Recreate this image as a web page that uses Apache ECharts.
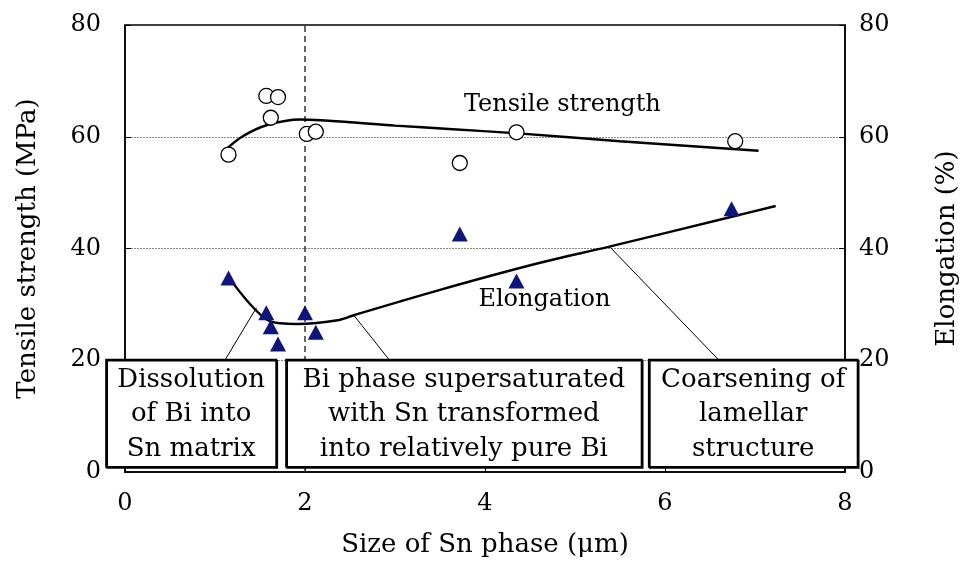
<!DOCTYPE html>
<html>
<head>
<meta charset="utf-8">
<script src="https://cdn.jsdelivr.net/npm/echarts@6/dist/echarts.min.js"></script>
<style>
  html, body { margin: 0; padding: 0; background: #fff; }
  #chart { width: 968px; height: 563px; }
</style>
</head>
<body>
<div id="chart"></div>
<script>
// Measured tensile strength (MPa) vs Sn phase size (µm)
const tensileX = [1.15, 1.57, 1.70, 1.62, 2.02, 2.12, 3.72, 4.35, 6.78];
const tensileY = [56.8, 67.3, 67.1, 63.4, 60.5, 60.9, 55.3, 60.8, 59.2];

// Measured elongation (%) vs Sn phase size (µm)
const elongX = [1.15, 1.57, 1.62, 1.70, 2.00, 2.12, 3.72, 4.35, 6.74];
const elongY = [34.7, 28.5, 26.0, 22.9, 28.5, 25.0, 42.6, 34.2, 47.1];

// Trend curves
const tensileFitX = [1.10, 1.30, 1.58, 1.95, 2.50, 3.00, 3.60, 4.37, 5.50, 7.04];
const tensileFitY = [57.4, 60.0, 62.1, 63.1, 62.6, 62.0, 61.4, 60.6, 59.2, 57.5];
const elongFitX = [1.20, 1.61, 1.92, 2.38, 2.55, 3.50, 4.60, 5.37, 6.72, 7.23];
const elongFitY = [33.8, 27.0, 26.5, 27.2, 28.1, 32.6, 37.4, 40.3, 45.6, 47.6];

// Axis ticks
const xTicks = [0, 2, 4, 6, 8];
const yTicks = [0, 20, 40, 60, 80];

// Regime boundary
const boundaryX = 2;

// Annotation boxes: [x0, x1, y0, y1] in data units, text lines
const boxes = [
  { range: [-0.21, 1.68, 20.1, 0.9], lines: ['Dissolution', 'of Bi into', 'Sn matrix'] },
  { range: [1.79, 5.74, 20.1, 0.9], lines: ['Bi phase supersaturated', 'with Sn transformed', 'into relatively pure Bi'] },
  { range: [5.82, 8.14, 20.1, 0.9], lines: ['Coarsening of', 'lamellar', 'structure'] }
];
// Leader lines from curve to box: [[x,y],[x,y]]
const leaders = [
  [[1.46, 29.4], [1.11, 20.0]],
  [[2.54, 28.1], [2.94, 20.0]],
  [[5.38, 40.4], [6.60, 20.0]]
];
// Curve labels
const curveLabels = [
  { text: 'Tensile strength', at: [4.86, 65.7] },
  { text: 'Elongation', at: [4.66, 30.8] }
];

const FONT = 'DejaVu Serif';
const zip = (a, b) => a.map((v, i) => [v, b[i]]);

const chart = echarts.init(document.getElementById('chart'), null, { renderer: 'canvas' });

const axisCommon = {
  min: yTicks[0], max: yTicks[yTicks.length - 1], interval: 20,
  axisLine: { show: true, lineStyle: { color: '#000', width: 1.5 } },
  axisTick: { show: true, inside: true, length: 6, lineStyle: { color: '#000', width: 1 } },
  nameLocation: 'middle',
  nameTextStyle: { color: '#000', fontFamily: FONT, fontSize: 26 }
};

const option = {
  backgroundColor: '#fff',
  animation: false,
  grid: { left: 125, right: 118, top: 25, bottom: 91, show: true, borderColor: '#000', borderWidth: 1.5 },
  xAxis: {
    type: 'value', min: xTicks[0], max: xTicks[xTicks.length - 1], interval: 2,
    name: 'Size of Sn phase (μm)', nameLocation: 'middle', nameGap: 60,
    nameTextStyle: { color: '#000', fontFamily: FONT, fontSize: 26 },
    axisLine: { show: true, lineStyle: { color: '#000', width: 1.5 } },
    axisTick: { show: true, inside: true, length: 6, lineStyle: { color: '#000', width: 1 } },
    axisLabel: { color: '#000', fontFamily: FONT, fontSize: 24, margin: 20 },
    splitLine: { show: false }
  },
  yAxis: [
    Object.assign({}, axisCommon, {
      type: 'value', position: 'left', name: 'Tensile strength (MPa)', nameGap: 84,
      axisLabel: { color: '#000', fontFamily: FONT, fontSize: 24, margin: 24 },
      splitLine: { show: true, showMinLine: false, showMaxLine: false, lineStyle: { color: '#888', type: [2, 1], width: 1 } }
    }),
    Object.assign({}, axisCommon, {
      type: 'value', position: 'right', name: 'Elongation (%)', nameGap: 89, nameRotate: 90,
      axisLabel: { color: '#000', fontFamily: FONT, fontSize: 24, margin: 14 },
      splitLine: { show: false }
    })
  ],
  series: [
    {
      type: 'line', name: 'boundary', data: [[boundaryX, yTicks[0]], [boundaryX, yTicks[yTicks.length - 1]]],
      symbol: 'none', lineStyle: { color: '#333', width: 1.5, type: [6, 4] }, z: 1, silent: true
    },
    ...leaders.map(seg => ({
      type: 'line', data: seg, symbol: 'none', silent: true,
      lineStyle: { color: '#000', width: 1 }, z: 2
    })),
    {
      type: 'line', name: 'Tensile fit', data: zip(tensileFitX, tensileFitY), smooth: 0.35,
      symbol: 'none', lineStyle: { color: '#000', width: 2.4 }, z: 3
    },
    {
      type: 'line', name: 'Elongation fit', yAxisIndex: 1, data: zip(elongFitX, elongFitY), smooth: 0.3,
      symbol: 'none', lineStyle: { color: '#000', width: 2.4 }, z: 3
    },
    {
      type: 'scatter', name: 'Tensile strength', data: zip(tensileX, tensileY),
      symbol: 'circle', symbolSize: 15,
      itemStyle: { color: '#fff', borderColor: '#000', borderWidth: 1.3, opacity: 1 }, z: 4
    },
    {
      type: 'scatter', name: 'Elongation', yAxisIndex: 1, data: zip(elongX, elongY),
      symbol: 'triangle', symbolSize: [16, 15],
      itemStyle: { color: '#0c1580', opacity: 1 }, z: 4
    }
  ]
};
chart.setOption(option);

// Annotation boxes and curve labels, positioned from data coordinates
const px = (p) => chart.convertToPixel({ xAxisIndex: 0, yAxisIndex: 0 }, p);
const graphics = [];
boxes.forEach(b => {
  const tl = px([b.range[0], b.range[2]]);
  const br = px([b.range[1], b.range[3]]);
  const w = br[0] - tl[0], h = br[1] - tl[1];
  graphics.push({
    type: 'rect', shape: { x: tl[0], y: tl[1], width: w, height: h }, z: 100,
    style: { fill: '#fff', stroke: '#000', lineWidth: 1.8, shadowColor: '#000', shadowOffsetX: 1, shadowOffsetY: 1, shadowBlur: 0 }
  });
  graphics.push({
    type: 'text', x: tl[0] + w / 2, y: tl[1] + h / 2 + 1, z: 101,
    style: {
      text: b.lines.join('\n'), fill: '#000', font: '26px "' + FONT + '"',
      align: 'center', verticalAlign: 'middle', lineHeight: 34.5
    }
  });
});
curveLabels.forEach(l => {
  const p = px(l.at);
  graphics.push({
    type: 'text', x: p[0], y: p[1], z: 50,
    style: { text: l.text, fill: '#000', font: '24px "' + FONT + '"', align: 'center', verticalAlign: 'middle' }
  });
});
chart.setOption({ graphic: graphics });
</script>
</body>
</html>
